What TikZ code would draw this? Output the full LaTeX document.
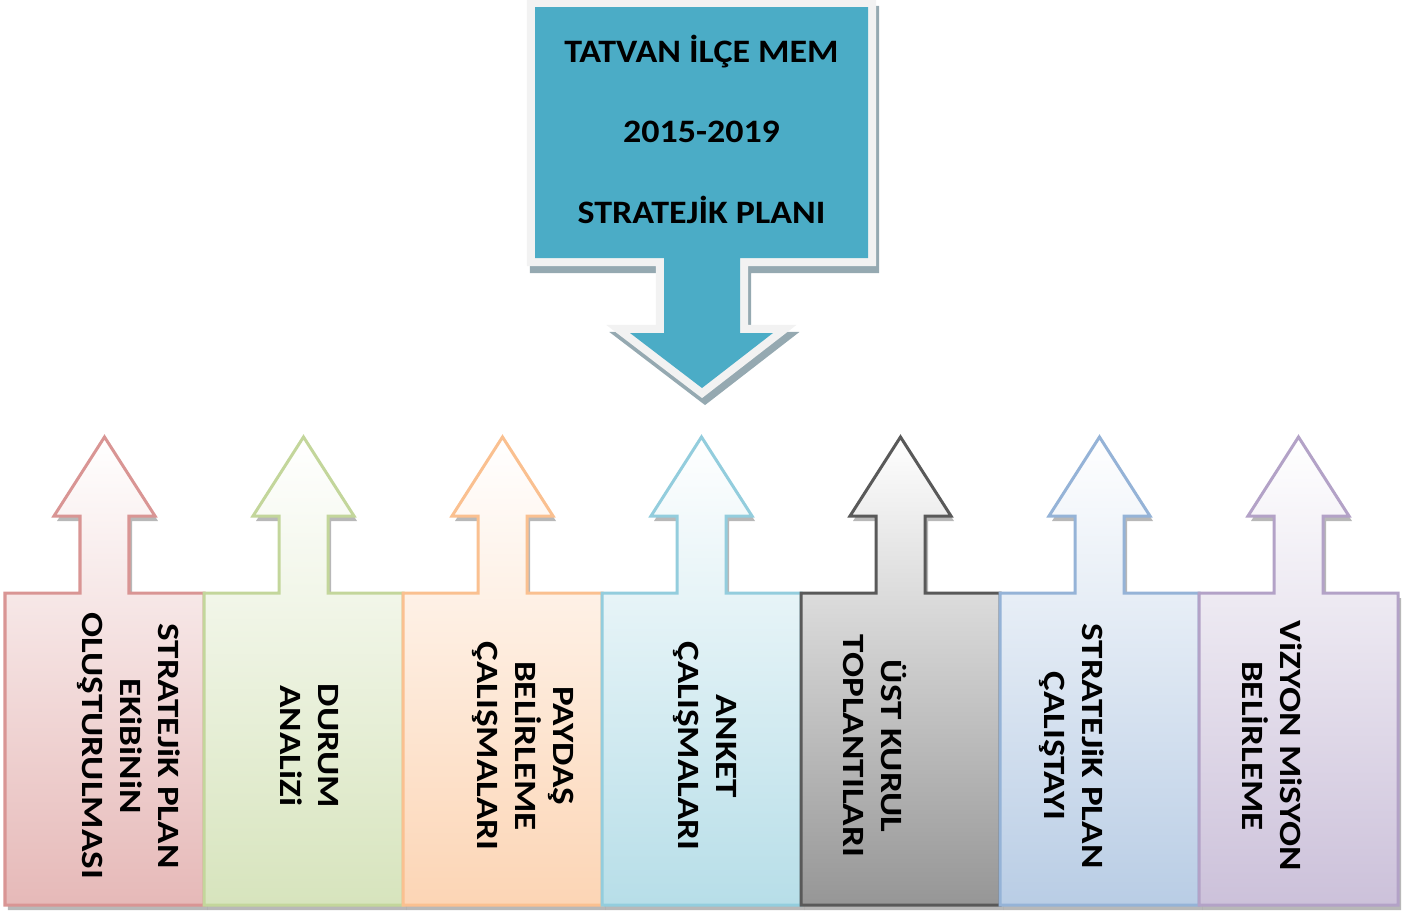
\documentclass[tikz,border=0pt]{standalone}
\usepackage{fontspec}
\setmainfont{Carlito}
\usepackage{xcolor}
\usetikzlibrary{positioning}

\definecolor{topblue}{HTML}{4BACC6}
\definecolor{topedge}{HTML}{F2F2F2}
\definecolor{topshade}{HTML}{95A9B1}
\definecolor{redln}{HTML}{D99594}
\definecolor{redfl}{HTML}{E6B9B8}
\definecolor{greenln}{HTML}{C3D69B}
\definecolor{greenfl}{HTML}{D7E4BD}
\definecolor{orangeln}{HTML}{FAC090}
\definecolor{orangefl}{HTML}{FCD5B5}
\definecolor{aqualn}{HTML}{93CDDD}
\definecolor{aquafl}{HTML}{B7DEE8}
\definecolor{grayln}{HTML}{595959}
\definecolor{grayfl}{HTML}{969696}
\definecolor{blueln}{HTML}{95B3D7}
\definecolor{bluefl}{HTML}{B9CDE5}
\definecolor{purpleln}{HTML}{B3A2C7}
\definecolor{purplefl}{HTML}{CCC1DA}

\begin{document}
\begin{tikzpicture}[
    x=0.01cm, y=-0.01cm,
    titletext/.style={anchor=base, xscale=1.1, font=\bfseries\fontsize{9.3}{11}\selectfont},
    steptext/.style={rotate=-90, xscale=1.2, align=center, font=\bfseries\fontsize{8.8}{10.8}\selectfont},
    downcallout/.style={fill=#1, preaction={draw=#1, line width=0.16cm, line join=miter}},
    upshadow/.style={fill=black, opacity=0.28},
    upcallout/.style={line width=0.03cm, line join=miter}
]
\useasboundingbox (0,0) rectangle (1414,915);

% top callout with arrow down
\fill [downcallout=topshade, shift={(3,7)}]
  (535,7) -- (868,7) -- (868,258) -- (740,258) -- (740,333) -- (773,333) -- (702,388)
  -- (630,333) -- (664,333) -- (664,258) -- (535,258) -- cycle;
\fill [downcallout=topedge]
  (535,7) -- (868,7) -- (868,258) -- (740,258) -- (740,333) -- (773,333) -- (702,388)
  -- (630,333) -- (664,333) -- (664,258) -- (535,258) -- cycle;
\fill [topblue]
  (535,7) -- (868,7) -- (868,258) -- (740,258) -- (740,333) -- (773,333) -- (702,388)
  -- (630,333) -- (664,333) -- (664,258) -- (535,258) -- cycle;

\node (title1) [titletext] at (701.5,63) {TATVAN İLÇE MEM};
\node (title2) [titletext] at (701.5,143) {2015-2019};
\node (title3) [titletext] at (701.5,223) {STRATEJİK PLANI};

% seven boxes with arrows up
\foreach \i/\ln/\fl/\dx/\txt in {
    0/redln/redfl/24/{STRATEJiK PLAN\\EKiBiNiN\\OLUŞTURULMASI},
    1/greenln/greenfl/6/{DURUM\\ANALiZi},
    2/orangeln/orangefl/21/{PAYDAŞ\\BELİRLEME\\ÇALIŞMALARI},
    3/aqualn/aquafl/3/{ANKET\\ÇALIŞMALARI},
    4/grayln/grayfl/-26/{ÜST KURUL\\TOPLANTILARI},
    5/blueln/bluefl/-28/{STRATEJiK PLAN\\ÇALIŞTAYI},
    6/purpleln/purplefl/-26/{ViZYON MiSYON\\BELİRLEME}} {
  \begin{scope}[xshift={(5+199*\i)*0.01cm}]
    \fill [upshadow, shift={(3,5)}]
      (0,593) -- (75,593) -- (75,516) -- (49,516) -- (99.5,437) -- (150,516) -- (124,516)
      -- (124,593) -- (199,593) -- (199,905) -- (0,905) -- cycle;
    \draw [upcallout, draw=\ln, top color=white, bottom color=\fl]
      (0,593) -- (75,593) -- (75,516) -- (49,516) -- (99.5,437) -- (150,516) -- (124,516)
      -- (124,593) -- (199,593) -- (199,905) -- (0,905) -- cycle;
    \node (step\i) [steptext] at (99.5+\dx,746) {\txt};
  \end{scope}
}

\end{tikzpicture}
\end{document}
